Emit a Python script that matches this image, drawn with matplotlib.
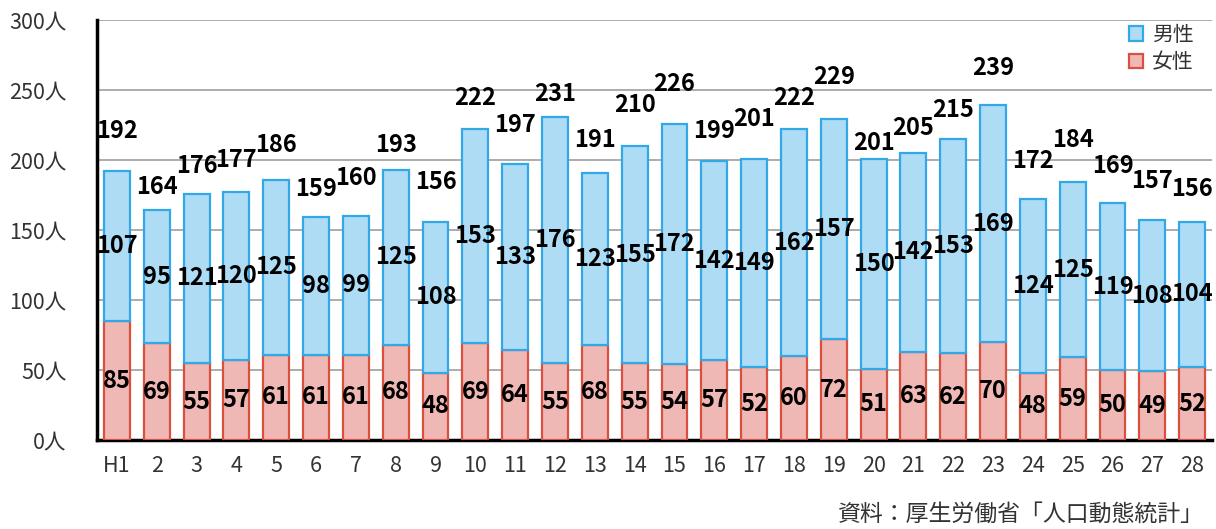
import numpy as np
import matplotlib.pyplot as plt
from matplotlib.patches import Patch

plt.rcParams['font.family'] = ['Noto Sans CJK JP', 'DejaVu Sans']

years = ["H1"] + [str(i) for i in range(2, 29)]
male = [107, 95, 121, 120, 125, 98, 99, 125, 108, 153, 133, 176, 123, 155, 172,
        142, 149, 162, 157, 150, 142, 153, 169, 124, 125, 119, 108, 104]
female = [85, 69, 55, 57, 61, 61, 61, 68, 48, 69, 64, 55, 68, 55, 54,
          57, 52, 60, 72, 51, 63, 62, 70, 48, 59, 50, 49, 52]
total = [192, 164, 176, 177, 186, 159, 160, 193, 156, 222, 197, 231, 191, 210, 226,
         199, 201, 222, 229, 201, 205, 215, 239, 172, 184, 169, 157, 156]
# how far above each bar the total label sits (data units)
total_lift = [29, 17, 20, 23, 25, 20, 27, 18, 28, 22, 28, 16, 23, 29, 28,
              22, 28, 22, 30, 11, 18, 21, 27, 27, 30, 27, 28, 23]

blue_face, blue_edge = '#aedcf5', '#33a8e6'
red_face, red_edge = '#efb8b4', '#d9503f'

fig = plt.figure(figsize=(12.16, 5.29), dpi=100)
ax = fig.add_axes([0.0798, 0.1682, 0.917, 0.794])

x = np.arange(len(years))
w = 0.65
ax.bar(x, female, w, color=red_face, edgecolor=red_edge, linewidth=1.6, zorder=3)
ax.bar(x, male, w, bottom=female, color=blue_face, edgecolor=blue_edge, linewidth=1.6, zorder=3)

lab = dict(ha='center', va='center', fontsize=17, fontweight='bold', color='black', zorder=5)
for i in range(len(years)):
    ax.text(x[i], female[i] / 2, str(female[i]), **lab)
    ax.text(x[i], female[i] + male[i] / 2, str(male[i]), **lab)
    ax.text(x[i], total[i] + total_lift[i], str(total[i]), **lab)

ax.set_xlim(-0.5, len(years) - 0.5)
ax.set_ylim(0, 300)
ax.set_yticks(range(0, 301, 50))
ax.set_yticklabels([f"{v}人" for v in range(0, 301, 50)])
ax.set_xticks(x)
ax.set_xticklabels(years)
ax.tick_params(axis='both', length=0, labelsize=15.5, labelcolor='#333333')
ax.tick_params(axis='y', pad=22)
ax.tick_params(axis='x', pad=11)
ax.yaxis.grid(True, color='#a6a6a6', linewidth=1.3, zorder=0)
ax.set_axisbelow(True)
for s in ['top', 'right']:
    ax.spines[s].set_visible(False)
ax.spines['left'].set_linewidth(2.5)
ax.spines['bottom'].set_linewidth(2.5)

handles = [Patch(facecolor=blue_face, edgecolor=blue_edge, linewidth=1.6, label='男性'),
           Patch(facecolor=red_face, edgecolor=red_edge, linewidth=1.6, label='女性')]
ax.legend(handles=handles, loc='upper right', bbox_to_anchor=(1.0, 1.035), frameon=False,
          fontsize=15, handlelength=0.7, handleheight=0.7, handletextpad=0.4,
          labelspacing=0.25, labelcolor='#333333')

fig.text(0.99, 0.028, "資料：厚生労働省「人口動態統計」", ha='right', va='center',
         fontsize=16.5, color='#333333')

fig.savefig('out.png', dpi=100)
plt.close()
